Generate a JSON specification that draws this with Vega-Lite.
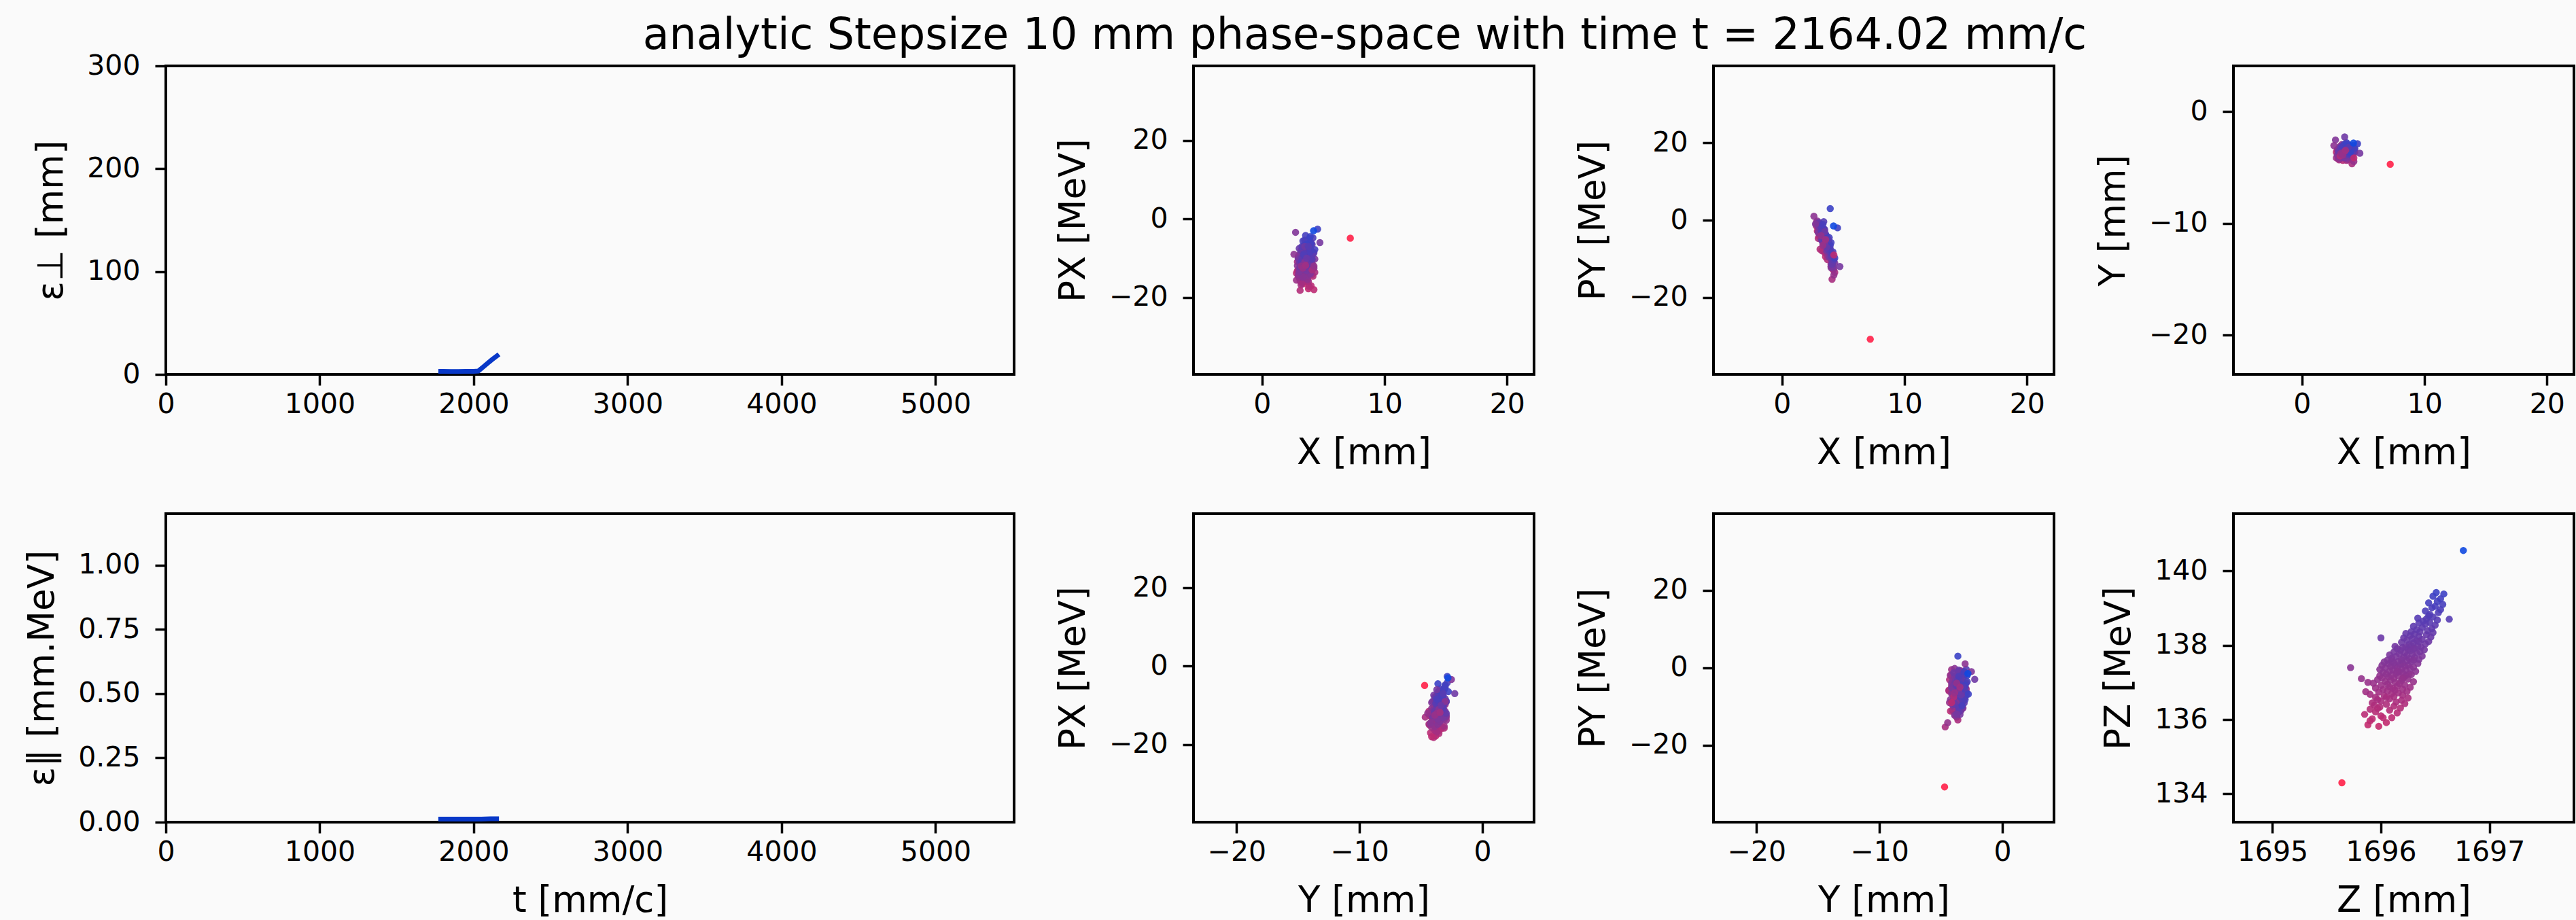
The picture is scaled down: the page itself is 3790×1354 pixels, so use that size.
{
"$schema": "https://vega.github.io/schema/vega-lite/v6.json",
"background": "#fafafa",
"padding": {"left": 34, "top": 20, "right": 2, "bottom": 5},
"title": {"text": "analytic Stepsize 10 mm phase-space with time t = 2164.02 mm/c", "fontSize": 63.5, "font": "DejaVu Sans", "fontWeight": "normal", "color": "black", "anchor": "start", "dx": 911, "offset": -11},
"datasets": {
"eperp": [
{"t":1770,"eps":3.0},{"t":1800,"eps":2.9},{"t":1850,"eps":2.8},{"t":1900,"eps":2.8},{"t":1950,"eps":2.9},{"t":2000,"eps":3.0},{"t":2030,"eps":3.3},{"t":2060,"eps":7.0},{"t":2090,"eps":10.8},{"t":2120,"eps":14.5},{"t":2164,"eps":19.5}
],
"epar": [
{"t":1770,"eps":0.012},{"t":1850,"eps":0.012},{"t":1950,"eps":0.012},{"t":2050,"eps":0.012},{"t":2110,"eps":0.013},{"t":2164,"eps":0.013}
],
"particles": [
{"X":3.42,"Y":-3.57,"PX":-16.5,"PY":-8.0,"Z":1695.98,"PZ":135.82},
{"X":3.03,"Y":-4.05,"PX":-14.0,"PY":-4.2,"Z":1695.88,"PZ":135.86},
{"X":3.78,"Y":-3.79,"PX":-17.8,"PY":-6.5,"Z":1696.05,"PZ":135.92},
{"X":2.88,"Y":-3.45,"PX":-13.2,"PY":-2.8,"Z":1695.90,"PZ":135.97},
{"X":3.55,"Y":-3.88,"PX":-15.2,"PY":-9.5,"Z":1695.92,"PZ":136.02},
{"X":3.18,"Y":-3.20,"PX":-12.5,"PY":-3.5,"Z":1696.10,"PZ":136.05},
{"X":4.00,"Y":-4.22,"PX":-17.0,"PY":-11.2,"Z":1696.00,"PZ":136.10},
{"X":2.80,"Y":-3.62,"PX":-13.8,"PY":-1.5,"Z":1695.85,"PZ":136.14},
{"X":3.63,"Y":-3.37,"PX":-16.0,"PY":-7.0,"Z":1696.15,"PZ":136.18},
{"X":3.33,"Y":-4.35,"PX":-11.5,"PY":-5.8,"Z":1695.95,"PZ":136.21},
{"X":4.15,"Y":-3.71,"PX":-14.6,"PY":-12.8,"Z":1696.08,"PZ":136.25},
{"X":3.10,"Y":-3.11,"PX":-15.8,"PY":-2.2,"Z":1695.90,"PZ":136.28},
{"X":3.48,"Y":-3.96,"PX":-12.9,"PY":-8.4,"Z":1696.18,"PZ":136.31},
{"X":3.85,"Y":-3.54,"PX":-17.2,"PY":-6.1,"Z":1695.99,"PZ":136.34},
{"X":2.95,"Y":-4.13,"PX":-13.1,"PY":-4.7,"Z":1696.12,"PZ":136.36},
{"X":3.70,"Y":-3.28,"PX":-15.5,"PY":-10.2,"Z":1695.94,"PZ":136.39},
{"X":3.40,"Y":-3.71,"PX":-14.2,"PY":-6.6,"Z":1696.05,"PZ":136.41},
{"X":3.93,"Y":-3.45,"PX":-11.8,"PY":-9.8,"Z":1696.22,"PZ":136.43},
{"X":3.03,"Y":-4.30,"PX":-15.0,"PY":-3.1,"Z":1695.92,"PZ":136.45},
{"X":3.55,"Y":-3.03,"PX":-12.2,"PY":-5.2,"Z":1696.14,"PZ":136.47},
{"X":3.25,"Y":-3.88,"PX":-16.4,"PY":-7.9,"Z":1696.00,"PZ":136.50},
{"X":4.30,"Y":-3.62,"PX":-13.6,"PY":-13.5,"Z":1696.19,"PZ":136.52},
{"X":2.88,"Y":-3.37,"PX":-10.9,"PY":-0.8,"Z":1695.97,"PZ":136.54},
{"X":3.63,"Y":-4.35,"PX":-14.8,"PY":-6.0,"Z":1696.08,"PZ":136.56},
{"X":3.33,"Y":-3.20,"PX":-12.7,"PY":-4.4,"Z":1696.25,"PZ":136.58},
{"X":3.78,"Y":-3.79,"PX":-15.9,"PY":-8.8,"Z":1695.95,"PZ":136.60},
{"X":3.10,"Y":-3.54,"PX":-11.3,"PY":-2.6,"Z":1696.12,"PZ":136.62},
{"X":4.08,"Y":-4.05,"PX":-14.1,"PY":-11.0,"Z":1696.03,"PZ":136.64},
{"X":3.48,"Y":-2.94,"PX":-13.0,"PY":-5.5,"Z":1696.20,"PZ":136.66},
{"X":3.18,"Y":-3.71,"PX":-16.8,"PY":-4.0,"Z":1695.90,"PZ":136.68},
{"X":3.85,"Y":-3.37,"PX":-12.4,"PY":-7.3,"Z":1696.10,"PZ":136.70},
{"X":2.95,"Y":-4.22,"PX":-14.5,"PY":-1.9,"Z":1696.16,"PZ":136.72},
{"X":3.70,"Y":-3.62,"PX":-10.6,"PY":-9.1,"Z":1695.98,"PZ":136.74},
{"X":3.40,"Y":-3.11,"PX":-15.3,"PY":-6.3,"Z":1696.24,"PZ":136.76},
{"X":4.00,"Y":-3.88,"PX":-13.3,"PY":-12.0,"Z":1696.06,"PZ":136.77},
{"X":3.25,"Y":-3.45,"PX":-11.9,"PY":-3.7,"Z":1696.13,"PZ":136.79},
{"X":3.55,"Y":-3.54,"PX":-12.8,"PY":-5.9,"Z":1696.02,"PZ":136.81},
{"X":3.03,"Y":-3.96,"PX":-14.6,"PY":-2.4,"Z":1696.20,"PZ":136.82},
{"X":3.93,"Y":-3.20,"PX":-10.2,"PY":-8.6,"Z":1696.11,"PZ":136.84},
{"X":3.33,"Y":-3.79,"PX":-13.5,"PY":-4.8,"Z":1695.95,"PZ":136.85},
{"X":3.70,"Y":-3.37,"PX":-11.1,"PY":-7.2,"Z":1696.27,"PZ":136.87},
{"X":2.80,"Y":-4.13,"PX":-15.6,"PY":-0.5,"Z":1696.08,"PZ":136.88},
{"X":4.15,"Y":-3.62,"PX":-12.3,"PY":-10.8,"Z":1696.15,"PZ":136.90},
{"X":3.48,"Y":-3.03,"PX":-9.8,"PY":-6.4,"Z":1696.00,"PZ":136.92},
{"X":3.18,"Y":-3.71,"PX":-14.0,"PY":-3.3,"Z":1696.22,"PZ":136.93},
{"X":3.78,"Y":-4.30,"PX":-12.6,"PY":-9.0,"Z":1696.06,"PZ":136.95},
{"X":3.40,"Y":-3.28,"PX":-11.4,"PY":-5.1,"Z":1696.17,"PZ":136.97},
{"X":3.63,"Y":-3.88,"PX":-15.1,"PY":-7.7,"Z":1695.93,"PZ":136.98},
{"X":3.10,"Y":-3.45,"PX":-10.7,"PY":-1.2,"Z":1696.13,"PZ":137.00},
{"X":4.00,"Y":-3.71,"PX":-13.2,"PY":-11.9,"Z":1696.30,"PZ":137.02},
{"X":3.33,"Y":-3.11,"PX":-12.0,"PY":-4.5,"Z":1696.04,"PZ":137.03},
{"X":3.63,"Y":-4.05,"PX":-14.3,"PY":-6.8,"Z":1696.19,"PZ":137.05},
{"X":2.95,"Y":-3.54,"PX":-9.5,"PY":-2.9,"Z":1696.09,"PZ":137.06},
{"X":3.85,"Y":-3.37,"PX":-12.9,"PY":-8.3,"Z":1695.97,"PZ":137.08},
{"X":3.48,"Y":-3.79,"PX":-11.7,"PY":-5.6,"Z":1696.25,"PZ":137.09},
{"X":3.25,"Y":-2.94,"PX":-13.8,"PY":-3.9,"Z":1696.12,"PZ":137.11},
{"X":4.08,"Y":-3.96,"PX":-10.4,"PY":-10.1,"Z":1696.01,"PZ":137.12},
{"X":3.55,"Y":-3.45,"PX":-12.2,"PY":-6.9,"Z":1696.21,"PZ":137.14},
{"X":3.03,"Y":-4.22,"PX":-14.9,"PY":-2.0,"Z":1696.07,"PZ":137.15},
{"X":3.78,"Y":-3.20,"PX":-11.0,"PY":-7.6,"Z":1696.16,"PZ":137.17},
{"X":3.40,"Y":-3.62,"PX":-13.4,"PY":-4.3,"Z":1695.99,"PZ":137.18},
{"X":4.23,"Y":-3.71,"PX":-12.5,"PY":-12.6,"Z":1696.23,"PZ":137.19},
{"X":3.18,"Y":-3.28,"PX":-10.0,"PY":-5.0,"Z":1696.10,"PZ":137.20},
{"X":3.70,"Y":-3.88,"PX":-15.4,"PY":-8.0,"Z":1696.28,"PZ":137.21},
{"X":3.48,"Y":-3.37,"PX":-11.6,"PY":-5.4,"Z":1696.05,"PZ":137.22},
{"X":3.10,"Y":-3.79,"PX":-13.1,"PY":-3.0,"Z":1696.26,"PZ":137.23},
{"X":3.93,"Y":-3.54,"PX":-9.2,"PY":-8.9,"Z":1696.14,"PZ":137.25},
{"X":3.33,"Y":-3.03,"PX":-12.4,"PY":-4.1,"Z":1696.20,"PZ":137.26},
{"X":3.63,"Y":-4.13,"PX":-10.8,"PY":-6.7,"Z":1696.02,"PZ":137.27},
{"X":2.95,"Y":-3.45,"PX":-14.2,"PY":-1.6,"Z":1696.17,"PZ":137.29},
{"X":4.08,"Y":-3.20,"PX":-11.3,"PY":-10.4,"Z":1696.32,"PZ":137.30},
{"X":3.40,"Y":-3.71,"PX":-8.9,"PY":-5.7,"Z":1696.08,"PZ":137.31},
{"X":3.78,"Y":-3.96,"PX":-12.7,"PY":-7.5,"Z":1696.23,"PZ":137.33},
{"X":3.25,"Y":-3.37,"PX":-10.5,"PY":-3.6,"Z":1696.11,"PZ":137.34},
{"X":3.55,"Y":-3.11,"PX":-13.6,"PY":-6.2,"Z":1695.99,"PZ":137.35},
{"X":2.88,"Y":-3.88,"PX":-11.9,"PY":-0.2,"Z":1696.19,"PZ":137.37},
{"X":4.00,"Y":-3.62,"PX":-9.6,"PY":-11.5,"Z":1696.27,"PZ":137.38},
{"X":3.48,"Y":-3.28,"PX":-12.1,"PY":-4.9,"Z":1696.04,"PZ":137.39},
{"X":3.70,"Y":-4.22,"PX":-14.5,"PY":-8.2,"Z":1696.15,"PZ":137.40},
{"X":3.18,"Y":-3.54,"PX":-10.3,"PY":-2.7,"Z":1696.30,"PZ":137.41},
{"X":3.85,"Y":-3.03,"PX":-11.5,"PY":-7.1,"Z":1696.09,"PZ":137.43},
{"X":3.40,"Y":-3.79,"PX":-13.3,"PY":-5.3,"Z":1696.22,"PZ":137.44},
{"X":4.15,"Y":-3.45,"PX":-8.6,"PY":-9.7,"Z":1696.13,"PZ":137.45},
{"X":3.03,"Y":-4.05,"PX":-12.9,"PY":-3.4,"Z":1696.01,"PZ":137.46},
{"X":3.63,"Y":-3.20,"PX":-10.9,"PY":-6.0,"Z":1696.25,"PZ":137.47},
{"X":3.33,"Y":-3.62,"PX":-14.8,"PY":-4.6,"Z":1696.18,"PZ":137.49},
{"X":3.78,"Y":-3.37,"PX":-9.9,"PY":-8.5,"Z":1696.07,"PZ":137.50},
{"X":3.10,"Y":-3.11,"PX":-12.2,"PY":-1.0,"Z":1696.34,"PZ":137.51},
{"X":4.00,"Y":-3.88,"PX":-11.1,"PY":-12.3,"Z":1696.20,"PZ":137.52},
{"X":3.48,"Y":-3.54,"PX":-13.0,"PY":-5.8,"Z":1696.12,"PZ":137.53},
{"X":2.95,"Y":-3.71,"PX":-10.1,"PY":-3.2,"Z":1696.03,"PZ":137.55},
{"X":3.70,"Y":-2.94,"PX":-12.6,"PY":-7.0,"Z":1696.28,"PZ":137.56},
{"X":3.25,"Y":-4.13,"PX":-9.3,"PY":-4.0,"Z":1696.16,"PZ":137.57},
{"X":3.93,"Y":-3.45,"PX":-14.0,"PY":-9.3,"Z":1696.10,"PZ":137.58},
{"X":3.55,"Y":-3.28,"PX":-11.4,"PY":-6.5,"Z":1696.24,"PZ":137.59},
{"X":3.18,"Y":-3.88,"PX":-8.4,"PY":-2.3,"Z":1696.06,"PZ":137.60},
{"X":3.63,"Y":-3.54,"PX":-10.6,"PY":-5.6,"Z":1696.19,"PZ":137.61},
{"X":3.25,"Y":-3.20,"PX":-12.3,"PY":-3.8,"Z":1696.35,"PZ":137.62},
{"X":4.00,"Y":-3.71,"PX":-8.1,"PY":-8.7,"Z":1696.26,"PZ":137.64},
{"X":3.40,"Y":-3.96,"PX":-11.2,"PY":-4.4,"Z":1696.10,"PZ":137.65},
{"X":3.78,"Y":-3.11,"PX":-9.4,"PY":-7.4,"Z":1696.31,"PZ":137.67},
{"X":3.03,"Y":-3.62,"PX":-13.5,"PY":-1.4,"Z":1696.21,"PZ":137.68},
{"X":4.30,"Y":-3.37,"PX":-10.2,"PY":-11.1,"Z":1696.14,"PZ":137.70},
{"X":3.55,"Y":-3.79,"PX":-7.7,"PY":-6.1,"Z":1696.38,"PZ":137.71},
{"X":3.18,"Y":-3.45,"PX":-11.8,"PY":-3.1,"Z":1696.24,"PZ":137.73},
{"X":3.85,"Y":-4.05,"PX":-9.0,"PY":-9.6,"Z":1696.08,"PZ":137.74},
{"X":3.48,"Y":-3.03,"PX":-12.8,"PY":-5.0,"Z":1696.29,"PZ":137.76},
{"X":3.70,"Y":-3.62,"PX":-10.7,"PY":-6.8,"Z":1696.17,"PZ":137.77},
{"X":3.10,"Y":-3.88,"PX":-8.8,"PY":-2.1,"Z":1696.33,"PZ":137.79},
{"X":4.08,"Y":-3.28,"PX":-11.6,"PY":-10.6,"Z":1696.22,"PZ":137.80},
{"X":3.40,"Y":-3.71,"PX":-9.7,"PY":-4.7,"Z":1696.12,"PZ":137.82},
{"X":3.63,"Y":-3.20,"PX":-13.1,"PY":-7.8,"Z":1696.36,"PZ":137.83},
{"X":2.95,"Y":-3.54,"PX":-10.0,"PY":-0.9,"Z":1696.27,"PZ":137.85},
{"X":3.93,"Y":-3.96,"PX":-7.4,"PY":-8.1,"Z":1696.18,"PZ":137.86},
{"X":3.33,"Y":-3.37,"PX":-11.0,"PY":-3.5,"Z":1696.40,"PZ":137.88},
{"X":3.78,"Y":-2.94,"PX":-9.1,"PY":-6.3,"Z":1696.25,"PZ":137.89},
{"X":3.48,"Y":-4.13,"PX":-12.5,"PY":-5.2,"Z":1696.15,"PZ":137.91},
{"X":4.15,"Y":-3.45,"PX":-8.5,"PY":-12.1,"Z":1696.31,"PZ":137.92},
{"X":3.18,"Y":-3.71,"PX":-10.4,"PY":-2.5,"Z":1696.20,"PZ":137.94},
{"X":3.70,"Y":-3.11,"PX":-11.9,"PY":-7.2,"Z":1696.37,"PZ":137.95},
{"X":3.55,"Y":-3.88,"PX":-7.9,"PY":-4.2,"Z":1696.23,"PZ":137.96},
{"X":3.03,"Y":-3.28,"PX":-10.8,"PY":-1.8,"Z":1696.13,"PZ":137.97},
{"X":4.00,"Y":-3.62,"PX":-9.5,"PY":-9.9,"Z":1696.34,"PZ":137.98},
{"X":3.33,"Y":-3.54,"PX":-12.0,"PY":-5.9,"Z":1696.28,"PZ":137.99},
{"X":3.63,"Y":-3.37,"PX":-9.3,"PY":-6.0,"Z":1696.26,"PZ":138.02},
{"X":3.25,"Y":-3.79,"PX":-11.2,"PY":-3.3,"Z":1696.41,"PZ":138.04},
{"X":3.93,"Y":-3.20,"PX":-7.2,"PY":-8.4,"Z":1696.30,"PZ":138.06},
{"X":3.48,"Y":-3.62,"PX":-10.1,"PY":-4.8,"Z":1696.19,"PZ":138.08},
{"X":3.78,"Y":-3.03,"PX":-8.3,"PY":-7.6,"Z":1696.44,"PZ":138.10},
{"X":3.10,"Y":-3.96,"PX":-12.2,"PY":-1.3,"Z":1696.33,"PZ":138.12},
{"X":4.15,"Y":-3.45,"PX":-9.0,"PY":-10.9,"Z":1696.24,"PZ":138.14},
{"X":3.40,"Y":-3.20,"PX":-6.8,"PY":-5.5,"Z":1696.38,"PZ":138.16},
{"X":3.70,"Y":-3.71,"PX":-10.6,"PY":-6.6,"Z":1696.29,"PZ":138.18},
{"X":3.18,"Y":-3.37,"PX":-8.0,"PY":-2.8,"Z":1696.21,"PZ":138.20},
{"X":4.00,"Y":-3.88,"PX":-11.5,"PY":-9.4,"Z":1696.46,"PZ":138.22},
{"X":3.55,"Y":-3.11,"PX":-9.7,"PY":-4.5,"Z":1696.35,"PZ":138.24},
{"X":3.03,"Y":-3.54,"PX":-7.5,"PY":-0.6,"Z":1696.27,"PZ":138.26},
{"X":3.85,"Y":-3.28,"PX":-10.3,"PY":-8.0,"Z":1696.42,"PZ":138.28},
{"X":3.33,"Y":-3.71,"PX":-8.7,"PY":-3.9,"Z":1696.31,"PZ":138.30},
{"X":3.63,"Y":-2.94,"PX":-12.0,"PY":-6.4,"Z":1696.23,"PZ":138.32},
{"X":4.08,"Y":-3.54,"PX":-6.5,"PY":-11.4,"Z":1696.48,"PZ":138.34},
{"X":3.25,"Y":-3.45,"PX":-9.9,"PY":-5.1,"Z":1696.36,"PZ":138.36},
{"X":3.78,"Y":-3.79,"PX":-8.1,"PY":-7.0,"Z":1696.28,"PZ":138.37},
{"X":3.48,"Y":-3.20,"PX":-10.8,"PY":-2.4,"Z":1696.43,"PZ":138.39},
{"X":3.70,"Y":-3.28,"PX":-8.2,"PY":-6.2,"Z":1696.33,"PZ":138.42},
{"X":3.33,"Y":-3.62,"PX":-10.0,"PY":-3.0,"Z":1696.47,"PZ":138.45},
{"X":4.00,"Y":-3.11,"PX":-6.0,"PY":-9.1,"Z":1696.38,"PZ":138.48},
{"X":3.55,"Y":-3.71,"PX":-9.1,"PY":-4.6,"Z":1696.30,"PZ":138.51},
{"X":3.85,"Y":-3.37,"PX":-7.3,"PY":-7.7,"Z":1696.50,"PZ":138.54},
{"X":3.18,"Y":-3.20,"PX":-10.9,"PY":-1.7,"Z":1696.41,"PZ":138.57},
{"X":4.23,"Y":-3.54,"PX":-8.6,"PY":-10.3,"Z":1696.35,"PZ":138.60},
{"X":3.48,"Y":-3.03,"PX":-5.4,"PY":-5.3,"Z":1696.45,"PZ":138.62},
{"X":3.78,"Y":-3.79,"PX":-9.5,"PY":-6.9,"Z":1696.39,"PZ":138.65},
{"X":3.25,"Y":-3.45,"PX":-7.0,"PY":-2.9,"Z":1696.52,"PZ":138.68},
{"X":4.08,"Y":-3.20,"PX":-10.2,"PY":-8.6,"Z":1696.42,"PZ":138.71},
{"X":3.63,"Y":-3.62,"PX":-6.6,"PY":-4.1,"Z":1696.34,"PZ":138.73},
{"X":3.40,"Y":-2.94,"PX":-8.9,"PY":-0.4,"Z":1696.48,"PZ":138.76},
{"X":3.93,"Y":-3.45,"PX":-5.8,"PY":-7.4,"Z":1696.44,"PZ":138.79},
{"X":3.78,"Y":-3.20,"PX":-7.5,"PY":-5.6,"Z":1696.45,"PZ":138.83},
{"X":3.40,"Y":-3.54,"PX":-9.2,"PY":-2.2,"Z":1696.53,"PZ":138.88},
{"X":4.15,"Y":-3.03,"PX":-4.8,"PY":-8.2,"Z":1696.41,"PZ":138.92},
{"X":3.63,"Y":-3.37,"PX":-6.9,"PY":-4.3,"Z":1696.55,"PZ":138.96},
{"X":3.93,"Y":-3.71,"PX":-8.4,"PY":-6.5,"Z":1696.47,"PZ":139.01},
{"X":3.33,"Y":-3.11,"PX":-5.6,"PY":-1.1,"Z":1696.50,"PZ":139.05},
{"X":4.30,"Y":-3.28,"PX":-7.8,"PY":-9.8,"Z":1696.57,"PZ":139.10},
{"X":3.55,"Y":-2.86,"PX":-4.2,"PY":-3.6,"Z":1696.44,"PZ":139.14},
{"X":4.00,"Y":-3.45,"PX":-6.3,"PY":-5.8,"Z":1696.52,"PZ":139.18},
{"X":3.85,"Y":-3.03,"PX":-5.0,"PY":-4.5,"Z":1696.55,"PZ":139.25},
{"X":4.53,"Y":-2.86,"PX":-2.6,"PY":-2.0,"Z":1696.48,"PZ":139.32},
{"X":3.63,"Y":-2.77,"PX":-6.5,"PY":-6.8,"Z":1696.58,"PZ":139.38},
{"X":3.93,"Y":-3.62,"PX":-4.5,"PY":3.0,"Z":1696.51,"PZ":139.42},
{"X":4.08,"Y":-4.65,"PX":-13.0,"PY":-15.3,"Z":1696.05,"PZ":136.60},
{"X":4.23,"Y":-4.45,"PX":-12.0,"PY":-14.2,"Z":1696.20,"PZ":137.10},
{"X":3.10,"Y":-3.96,"PX":-18.2,"PY":-7.5,"Z":1695.97,"PZ":136.30},
{"X":4.23,"Y":-4.13,"PX":-18.0,"PY":-9.0,"Z":1696.02,"PZ":136.05},
{"X":2.73,"Y":-2.52,"PX":-3.4,"PY":-1.0,"Z":1696.30,"PZ":137.60},
{"X":3.48,"Y":-2.25,"PX":-7.0,"PY":-3.0,"Z":1696.35,"PZ":138.10},
{"X":2.60,"Y":-3.03,"PX":-9.0,"PY":1.0,"Z":1696.15,"PZ":137.30},
{"X":4.72,"Y":-3.71,"PX":-6.0,"PY":-12.0,"Z":1696.30,"PZ":137.90},
{"X":3.48,"Y":-3.54,"PX":-11.0,"PY":-6.0,"Z":1695.72,"PZ":137.40},
{"X":3.18,"Y":-3.71,"PX":-12.0,"PY":-4.0,"Z":1695.82,"PZ":137.10},
{"X":3.63,"Y":-3.37,"PX":-10.0,"PY":-7.0,"Z":1696.00,"PZ":138.20},
{"X":3.78,"Y":-3.20,"PX":-7.0,"PY":-5.0,"Z":1696.63,"PZ":138.70},
{"X":3.33,"Y":-3.88,"PX":-12.5,"PY":-6.5,"Z":1695.88,"PZ":137.00},
{"X":3.55,"Y":-3.45,"PX":-11.8,"PY":-5.0,"Z":1695.86,"PZ":136.75},
{"X":4.20,"Y":-2.80,"PX":-3.0,"PY":-1.5,"Z":1696.76,"PZ":140.55},
{"X":7.20,"Y":-4.70,"PX":-4.9,"PY":-30.8,"Z":1695.64,"PZ":134.30}
]
},
"columns": 4,
"spacing": {"row": 205, "column": 264},
"bounds": "flush",
"align": "each",
"concat": [
{
"width": 1248, "height": 454,
"data": {"name": "eperp"},
"mark": {"type": "line", "color": "#0838c8", "strokeWidth": 7, "clip": true},
"encoding": {
"x": {"field": "t", "type": "quantitative", "scale": {"domain": [0, 5510], "nice": false, "zero": false}, "axis": {"values": [0,1000,2000,3000,4000,5000], "format": "d", "title": null}},
"y": {"field": "eps", "type": "quantitative", "scale": {"domain": [0, 300], "nice": false}, "axis": {"values": [0,100,200,300], "format": "d", "title": "ε⊥ [mm]"}}
}
},
{
"width": 501, "height": 454,
"data": {"name": "particles"},
"mark": {"type": "circle", "size": 110, "opacity": 0.9, "clip": true},
"encoding": {
"x": {"field": "X", "type": "quantitative", "scale": {"domain": [-5.6, 22.2], "nice": false, "zero": false}, "axis": {"values": [0,10,20], "format": "d", "title": "X [mm]"}},
"y": {"field": "PX", "type": "quantitative", "scale": {"domain": [-39.6, 39.0], "nice": false, "zero": false}, "axis": {"values": [-20,0,20], "format": "d", "title": "PX [MeV]"}},
"color": {"field": "PZ", "type": "quantitative", "scale": {"domain": [134.3, 140.55], "range": ["#ff2048", "#1048e0"], "interpolate": "rgb"}, "legend": null}
}
},
{
"width": 501, "height": 454,
"data": {"name": "particles"},
"mark": {"type": "circle", "size": 110, "opacity": 0.9, "clip": true},
"encoding": {
"x": {"field": "X", "type": "quantitative", "scale": {"domain": [-5.6, 22.2], "nice": false, "zero": false}, "axis": {"values": [0,10,20], "format": "d", "title": "X [mm]"}},
"y": {"field": "PY", "type": "quantitative", "scale": {"domain": [-39.9, 39.9], "nice": false, "zero": false}, "axis": {"values": [-20,0,20], "format": "d", "title": "PY [MeV]"}},
"color": {"field": "PZ", "type": "quantitative", "scale": {"domain": [134.3, 140.55], "range": ["#ff2048", "#1048e0"], "interpolate": "rgb"}, "legend": null}
}
},
{
"width": 501, "height": 454,
"data": {"name": "particles"},
"mark": {"type": "circle", "size": 110, "opacity": 0.9, "clip": true},
"encoding": {
"x": {"field": "X", "type": "quantitative", "scale": {"domain": [-5.6, 22.2], "nice": false, "zero": false}, "axis": {"values": [0,10,20], "format": "d", "title": "X [mm]"}},
"y": {"field": "Y", "type": "quantitative", "scale": {"domain": [-23.5, 4.1], "nice": false, "zero": false}, "axis": {"values": [-20,-10,0], "format": "d", "title": "Y [mm]"}},
"color": {"field": "PZ", "type": "quantitative", "scale": {"domain": [134.3, 140.55], "range": ["#ff2048", "#1048e0"], "interpolate": "rgb"}, "legend": null}
}
},
{
"width": 1248, "height": 454,
"data": {"name": "epar"},
"mark": {"type": "line", "color": "#0838c8", "strokeWidth": 7, "clip": true},
"encoding": {
"x": {"field": "t", "type": "quantitative", "scale": {"domain": [0, 5510], "nice": false, "zero": false}, "axis": {"values": [0,1000,2000,3000,4000,5000], "format": "d", "title": "t [mm/c]"}},
"y": {"field": "eps", "type": "quantitative", "scale": {"domain": [0, 1.2], "nice": false}, "axis": {"values": [0,0.25,0.5,0.75,1.0], "format": ".2f", "title": "ε∥ [mm.MeV]"}}
}
},
{
"width": 501, "height": 454,
"data": {"name": "particles"},
"mark": {"type": "circle", "size": 110, "opacity": 0.9, "clip": true},
"encoding": {
"x": {"field": "Y", "type": "quantitative", "scale": {"domain": [-23.5, 4.2], "nice": false, "zero": false}, "axis": {"values": [-20,-10,0], "format": "d", "title": "Y [mm]"}},
"y": {"field": "PX", "type": "quantitative", "scale": {"domain": [-39.8, 38.9], "nice": false, "zero": false}, "axis": {"values": [-20,0,20], "format": "d", "title": "PX [MeV]"}},
"color": {"field": "PZ", "type": "quantitative", "scale": {"domain": [134.3, 140.55], "range": ["#ff2048", "#1048e0"], "interpolate": "rgb"}, "legend": null}
}
},
{
"width": 501, "height": 454,
"data": {"name": "particles"},
"mark": {"type": "circle", "size": 110, "opacity": 0.9, "clip": true},
"encoding": {
"x": {"field": "Y", "type": "quantitative", "scale": {"domain": [-23.5, 4.2], "nice": false, "zero": false}, "axis": {"values": [-20,-10,0], "format": "d", "title": "Y [mm]"}},
"y": {"field": "PY", "type": "quantitative", "scale": {"domain": [-39.9, 39.8], "nice": false, "zero": false}, "axis": {"values": [-20,0,20], "format": "d", "title": "PY [MeV]"}},
"color": {"field": "PZ", "type": "quantitative", "scale": {"domain": [134.3, 140.55], "range": ["#ff2048", "#1048e0"], "interpolate": "rgb"}, "legend": null}
}
},
{
"width": 501, "height": 454,
"data": {"name": "particles"},
"mark": {"type": "circle", "size": 110, "opacity": 0.9, "clip": true},
"encoding": {
"x": {"field": "Z", "type": "quantitative", "scale": {"domain": [1694.64, 1697.78], "nice": false, "zero": false}, "axis": {"values": [1695,1696,1697], "format": "d", "title": "Z [mm]"}},
"y": {"field": "PZ", "type": "quantitative", "scale": {"domain": [133.24, 141.54], "nice": false, "zero": false}, "axis": {"values": [134,136,138,140], "format": "d", "title": "PZ [MeV]"}},
"color": {"field": "PZ", "type": "quantitative", "scale": {"domain": [134.3, 140.55], "range": ["#ff2048", "#1048e0"], "interpolate": "rgb"}, "legend": null}
}
}
],
"config": {
"font": "DejaVu Sans",
"view": {"stroke": "black", "strokeWidth": 4},
"axis": {"grid": false, "domain": false, "tickColor": "black", "tickSize": 16, "tickWidth": 3.5, "labelFontSize": 41, "labelColor": "black", "labelFont": "DejaVu Sans", "labelPadding": 8, "labelFlush": false, "labelOverlap": false, "titleFontSize": 53, "titleFont": "DejaVu Sans", "titleFontWeight": "normal", "titleColor": "black", "titlePadding": 25},
"axisY": {"labelPadding": 22}
}
}
